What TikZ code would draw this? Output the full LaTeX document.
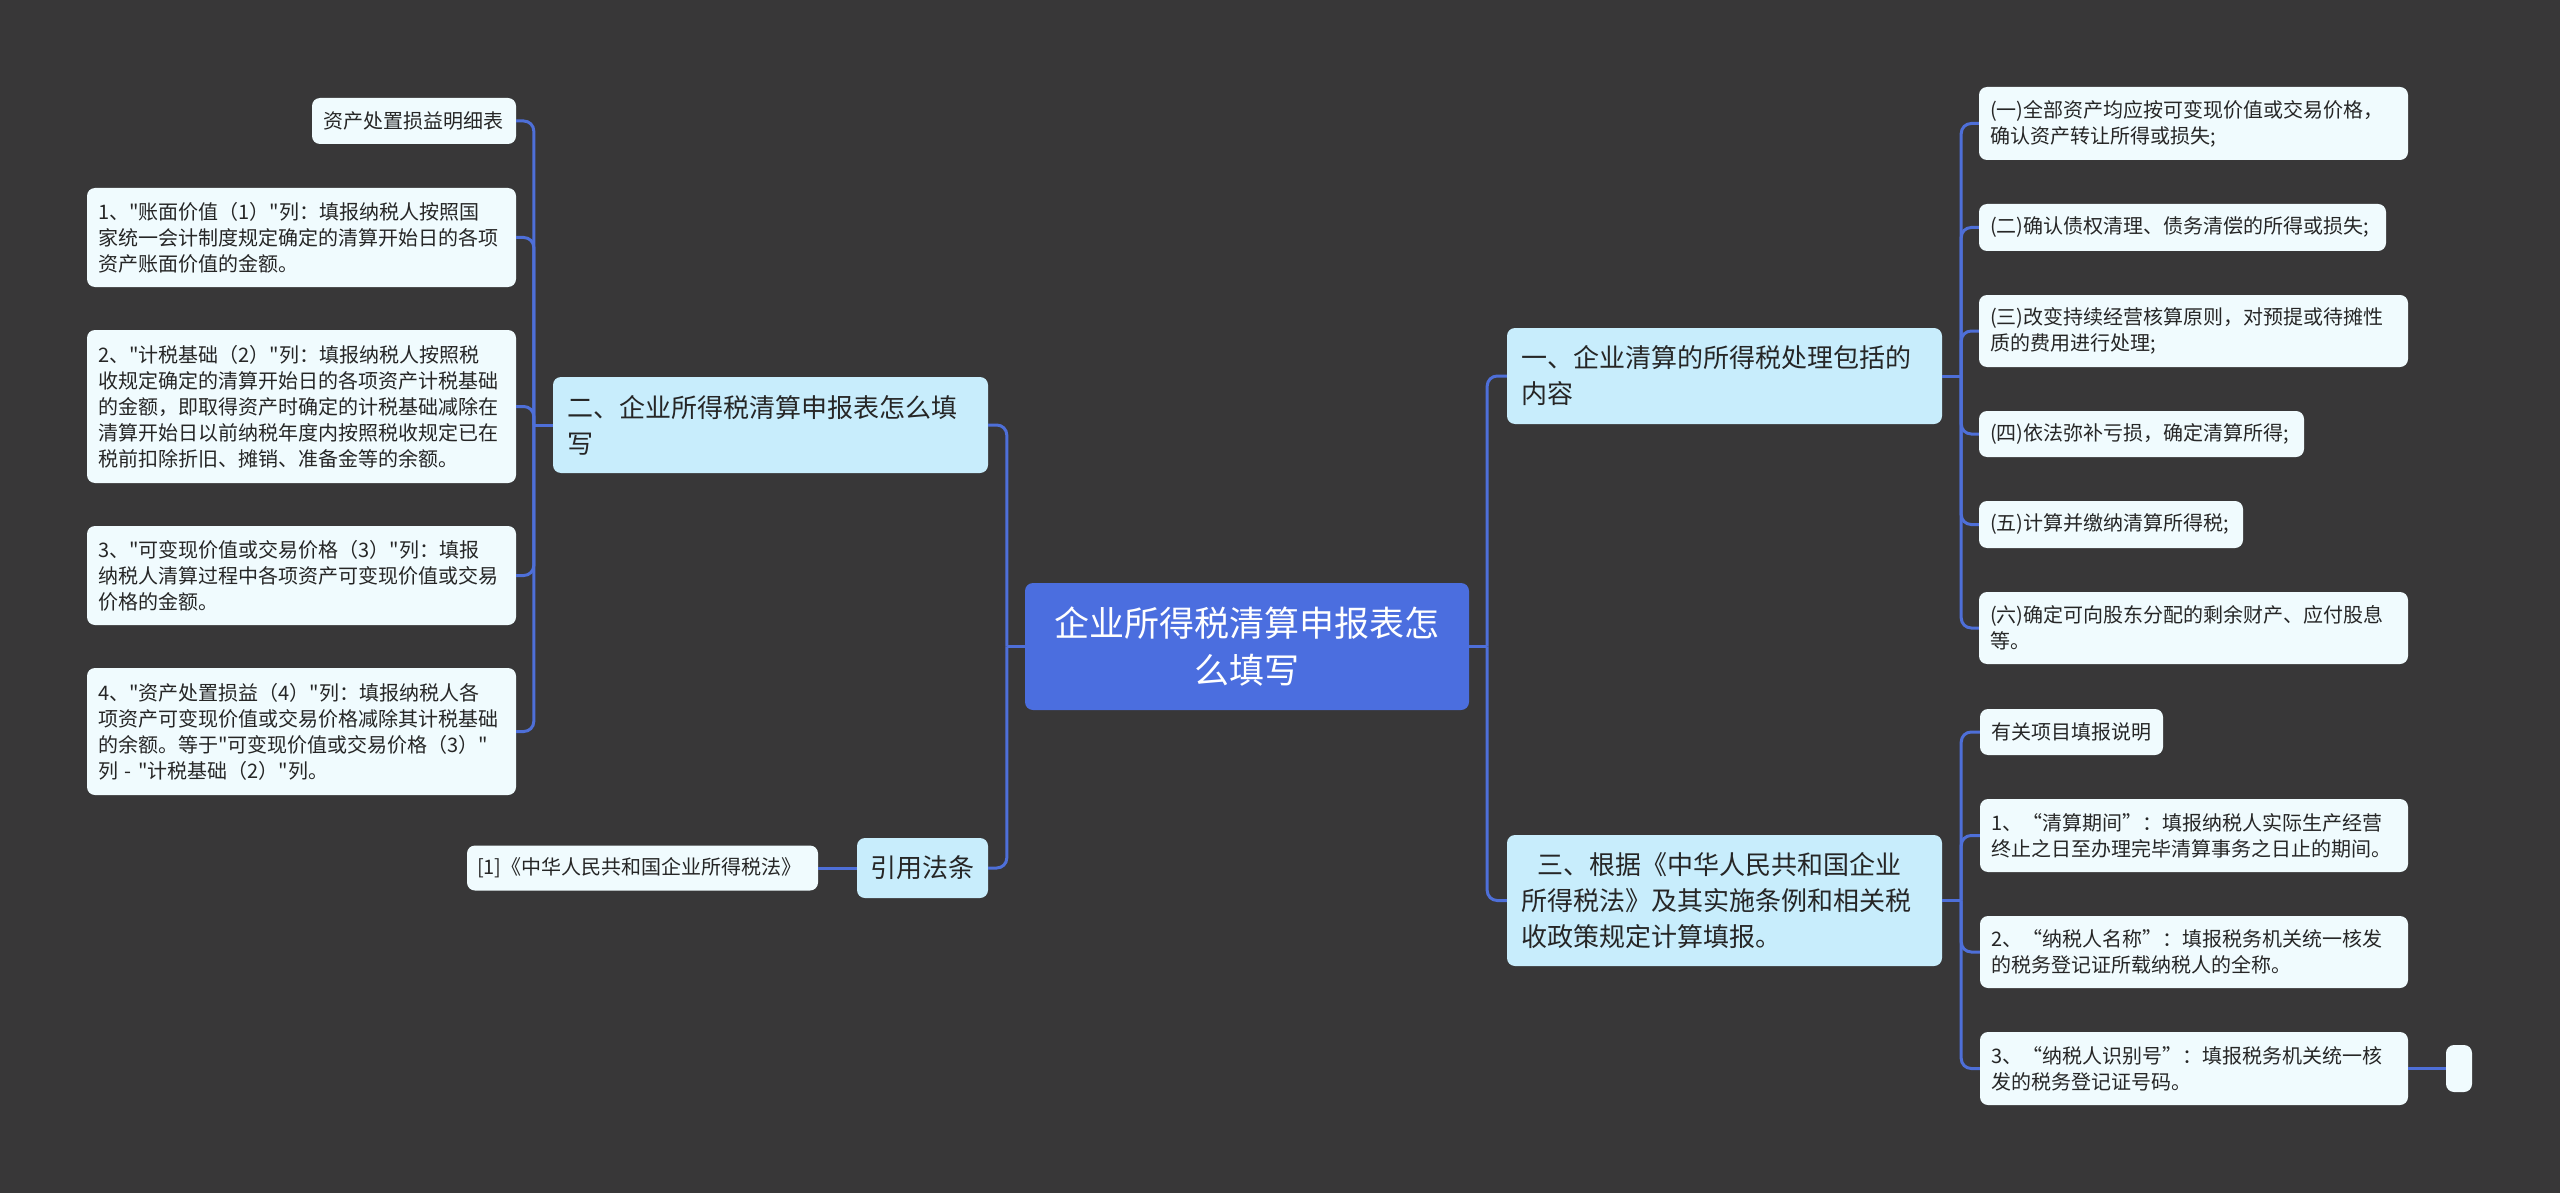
\documentclass[tikz,border=0pt]{standalone}
\usepackage{fontspec}
\setmainfont{Noto Sans CJK SC}[Ligatures=TeXOff]
\definecolor{bg}{HTML}{383738}
\definecolor{rootc}{HTML}{4B6EDF}
\definecolor{mainc}{HTML}{C8EDFC}
\definecolor{leafc}{HTML}{F0FBFE}
\definecolor{linec}{HTML}{4E6FD8}
\definecolor{txt}{HTML}{262626}
\tikzset{
  base/.style={rounded corners=8pt, inner ysep=0pt, align=left, anchor=center},
  leaf/.style={base, fill=leafc, text=txt, font=\fontsize{20}{26}\selectfont, inner xsep=11pt},
  mainbox/.style={base, fill=mainc, text=txt, font=\fontsize{26}{36}\selectfont, inner xsep=14pt},
  rootbox/.style={base, fill=rootc, text=white, font=\fontsize{35}{47}\selectfont, align=center, inner xsep=22pt},
  conn/.style={draw=linec, line width=3pt, rounded corners=10pt},
}
\begin{document}
\begin{tikzpicture}[x=1pt,y=-1pt]
\fill[bg] (0,0) rectangle (2560,1193);
\useasboundingbox (0,0) rectangle (2560,1193);

% root
\node[rootbox, minimum width=444pt, minimum height=127pt, text width=400pt] (root) at (1247,646.5)
  {企业所得税清算申报表怎\\么填写};

% main branches
\node[mainbox, minimum width=435pt, minimum height=96pt, text width=407pt] (M1) at (1724.5,376)
  {一、企业清算的所得税处理包括的\\内容};
\node[mainbox, minimum width=435pt, minimum height=131pt, text width=407pt] (M3) at (1724.5,900.5)
  {\hspace*{16pt}三、根据《中华人民共和国企业\\所得税法》及其实施条例和相关税\\收政策规定计算填报。};
\node[mainbox, minimum width=435pt, minimum height=96pt, text width=407pt] (M2) at (770.5,425)
  {二、企业所得税清算申报表怎么填\\写};
\node[mainbox, inner xsep=13pt, minimum width=131pt, minimum height=60pt, text width=105pt] (M4) at (922.5,868)
  {引用法条};

% citation
\node[leaf, inner xsep=10pt, minimum width=351pt, minimum height=45pt, text width=331pt] (cite) at (642.5,868)
  {[1]《中华人民共和国企业所得税法》};

% left leaves
\node[leaf, minimum width=204pt, minimum height=46pt, text width=182pt] (L0) at (414,121)
  {资产处置损益明细表};
\node[leaf, minimum width=429pt, minimum height=99pt, text width=407pt] (L1) at (301.5,237.5)
  {1、"账面价值（1）"列：填报纳税人按照国\\家统一会计制度规定确定的清算开始日的各项\\资产账面价值的金额。};
\node[leaf, minimum width=429pt, minimum height=153pt, text width=407pt] (L2) at (301.5,406.5)
  {2、"计税基础（2）"列：填报纳税人按照税\\收规定确定的清算开始日的各项资产计税基础\\的金额，即取得资产时确定的计税基础减除在\\清算开始日以前纳税年度内按照税收规定已在\\税前扣除折旧、摊销、准备金等的余额。};
\node[leaf, minimum width=429pt, minimum height=99pt, text width=407pt] (L3) at (301.5,575.5)
  {3、"可变现价值或交易价格（3）"列：填报\\纳税人清算过程中各项资产可变现价值或交易\\价格的金额。};
\node[leaf, minimum width=429pt, minimum height=127pt, text width=407pt] (L4) at (301.5,731.5)
  {4、"资产处置损益（4）"列：填报纳税人各\\项资产可变现价值或交易价格减除其计税基础\\的余额。等于"可变现价值或交易价格（3）"\\列 - "计税基础（2）"列。};

% right leaves under M1
\node[leaf, minimum width=429pt, minimum height=73pt, text width=407pt] (R1) at (2193.5,123.5)
  {(一)全部资产均应按可变现价值或交易价格，\\确认资产转让所得或损失;};
\node[leaf, minimum width=407pt, minimum height=47pt, text width=385pt] (R2) at (2182.5,227.5)
  {(二)确认债权清理、债务清偿的所得或损失;};
\node[leaf, minimum width=429pt, minimum height=72pt, text width=407pt] (R3) at (2193.5,331)
  {(三)改变持续经营核算原则，对预提或待摊性\\质的费用进行处理;};
\node[leaf, minimum width=325pt, minimum height=46pt, text width=303pt] (R4) at (2141.5,434)
  {(四)依法弥补亏损，确定清算所得;};
\node[leaf, minimum width=264pt, minimum height=47pt, text width=242pt] (R5) at (2111,524.5)
  {(五)计算并缴纳清算所得税;};
\node[leaf, minimum width=429pt, minimum height=72pt, text width=407pt] (R6) at (2193.5,628)
  {(六)确定可向股东分配的剩余财产、应付股息\\等。};

% right leaves under M3
\node[leaf, minimum width=183pt, minimum height=46pt, text width=161pt] (S0) at (2071.5,732)
  {有关项目填报说明};
\node[leaf, minimum width=428pt, minimum height=73pt, text width=406pt] (S1) at (2194,835.5)
  {1、“清算期间”：填报纳税人实际生产经营\\终止之日至办理完毕清算事务之日止的期间。};
\node[leaf, minimum width=428pt, minimum height=72pt, text width=406pt] (S2) at (2194,952)
  {2、“纳税人名称”：填报税务机关统一核发\\的税务登记证所载纳税人的全称。};
\node[leaf, minimum width=428pt, minimum height=73pt, text width=406pt] (S3) at (2194,1068.5)
  {3、“纳税人识别号”：填报税务机关统一核\\发的税务登记证号码。};
\node[leaf, inner xsep=0pt, minimum width=26pt, minimum height=47pt] (E) at (2459,1068.5) {};

% junction coordinates
\coordinate (jRL) at ([xshift=-18pt]root.west);
\coordinate (jRR) at ([xshift=18pt]root.east);
\coordinate (jM2) at ([xshift=-19pt]M2.west);
\coordinate (jM1) at ([xshift=19pt]M1.east);
\coordinate (jM3) at ([xshift=19pt]M3.east);

% connectors
\draw[conn] (root.west) -- (jRL);
\draw[conn] (jRL) |- (M2.east);
\draw[conn] (jRL) |- (M4.east);
\draw[conn] (root.east) -- (jRR);
\draw[conn] (jRR) |- (M1.west);
\draw[conn] (jRR) |- (M3.west);

\draw[conn] (M2.west) -- (jM2);
\foreach \n in {L0,L1,L2,L3,L4} { \draw[conn] (jM2) |- (\n.east); }
\draw[conn] (M4.west) -- (cite.east);

\draw[conn] (M1.east) -- (jM1);
\foreach \n in {R1,R2,R3,R4,R5,R6} { \draw[conn] (jM1) |- (\n.west); }
\draw[conn] (M3.east) -- (jM3);
\foreach \n in {S0,S1,S2,S3} { \draw[conn] (jM3) |- (\n.west); }
\draw[conn] (S3.east) -- (E.west);
\end{tikzpicture}
\end{document}
